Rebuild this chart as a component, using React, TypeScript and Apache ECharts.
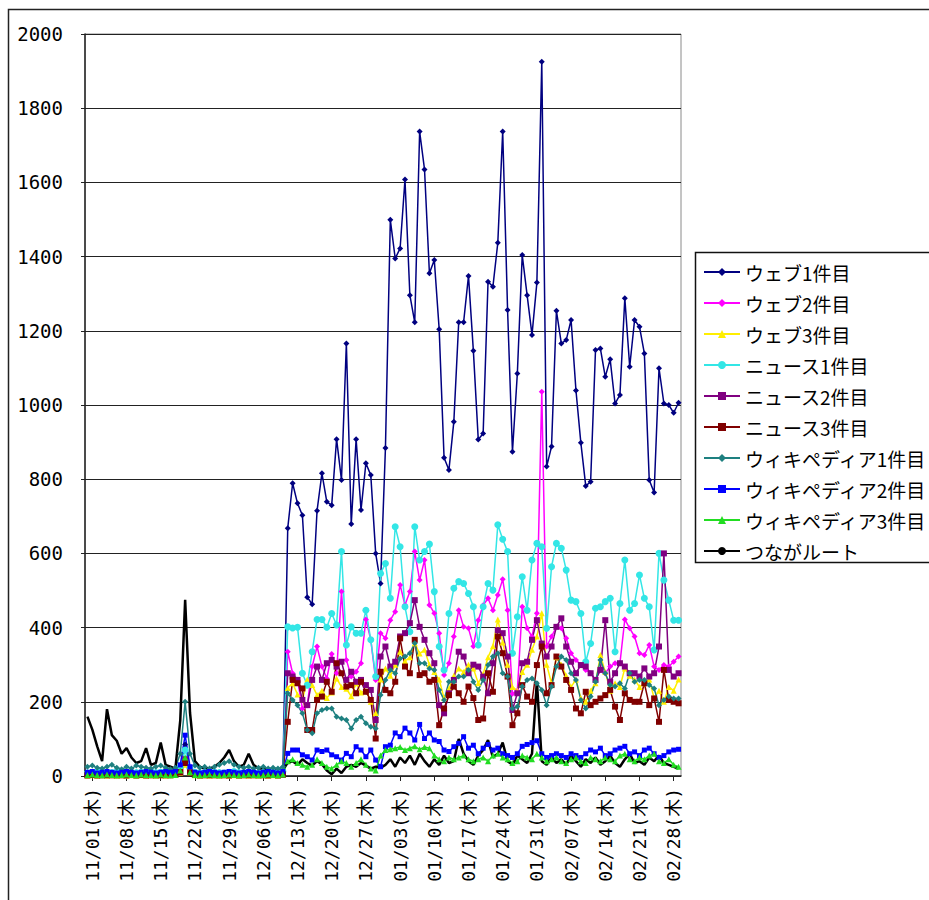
import React, { useEffect, useRef } from "react";
import * as echarts from "echarts";

const dates = [
  "10/31(水)","11/01(木)","11/02(金)","11/03(土)","11/04(日)","11/05(月)","11/06(火)",
  "11/07(水)","11/08(木)","11/09(金)","11/10(土)","11/11(日)","11/12(月)","11/13(火)",
  "11/14(水)","11/15(木)","11/16(金)","11/17(土)","11/18(日)","11/19(月)","11/20(火)",
  "11/21(水)","11/22(木)","11/23(金)","11/24(土)","11/25(日)","11/26(月)","11/27(火)",
  "11/28(水)","11/29(木)","11/30(金)","12/01(土)","12/02(日)","12/03(月)","12/04(火)",
  "12/05(水)","12/06(木)","12/07(金)","12/08(土)","12/09(日)","12/10(月)","12/11(火)",
  "12/12(水)","12/13(木)","12/14(金)","12/15(土)","12/16(日)","12/17(月)","12/18(火)",
  "12/19(水)","12/20(木)","12/21(金)","12/22(土)","12/23(日)","12/24(月)","12/25(火)",
  "12/26(水)","12/27(木)","12/28(金)","12/29(土)","12/30(日)","12/31(月)","01/01(火)",
  "01/02(水)","01/03(木)","01/04(金)","01/05(土)","01/06(日)","01/07(月)","01/08(火)",
  "01/09(水)","01/10(木)","01/11(金)","01/12(土)","01/13(日)","01/14(月)","01/15(火)",
  "01/16(水)","01/17(木)","01/18(金)","01/19(土)","01/20(日)","01/21(月)","01/22(火)",
  "01/23(水)","01/24(木)","01/25(金)","01/26(土)","01/27(日)","01/28(月)","01/29(火)",
  "01/30(水)","01/31(木)","02/01(金)","02/02(土)","02/03(日)","02/04(月)","02/05(火)",
  "02/06(水)","02/07(木)","02/08(金)","02/09(土)","02/10(日)","02/11(月)","02/12(火)",
  "02/13(水)","02/14(木)","02/15(金)","02/16(土)","02/17(日)","02/18(月)","02/19(火)",
  "02/20(水)","02/21(木)","02/22(金)","02/23(土)","02/24(日)","02/25(月)","02/26(火)",
  "02/27(水)","02/28(木)","02/29(金)"
];

const web1 = [
  3,2,3,2,3,4,2,3,2,3, 2,3,4,2,3,2,3,2,3,10, 85,12,3,2,3,2,3,2,3,4, 3,2,3,2,3,2,3,2,3,2, 5,
  668,789,735,703,482,463,715,816,739,730, 908,798,1166,679,908,717,843,811,600,519,
  884,1499,1395,1422,1608,1296,1223,1737,1635,1355, 1391,1204,858,825,955,1223,1223,1348,1146,907,
  923,1332,1319,1437,1737,1256,874,1085,1404,1296, 1189,1330,1925,834,888,1254,1166,1175,1229,1039,
  898,782,793,1148,1152,1076,1123,1004,1027,1288, 1103,1229,1211,1139,798,764,1099,1004,1000,979,1006
];
const web2 = [
  2,3,2,3,2,3,2,3,2,3, 2,3,2,3,2,3,2,3,4,12, 40,10,3,2,3,2,3,2,3,2, 3,2,3,2,3,2,3,2,3,2, 4,
  335,277,259,182,191,295,349,295,263,329, 277,497,313,268,281,304,422,367,259,385,
  371,420,443,515,461,497,605,528,582,461, 439,385,272,304,376,447,402,398,350,
  420,460,479,447,488,530,447,222,230,456, 398,376,439,1036,349,376,402,398,371,331,
  313,299,286,277,259,286,277,295,304,304, 422,398,376,331,326,353,295,286,299,295, 308,322
];
const web3 = [
  1,2,1,2,1,2,1,2,1,2, 1,2,1,2,1,2,1,2,3,8, 30,8,2,1,2,1,2,1,2,1, 2,1,2,1,2,1,2,1,2,1, 3,
  237,250,220,205,260,245,218,230,210,225, 263,240,235,215,250,225,230,200,170,260,
  290,270,300,335,310,320,358,330,340,300, 280,260,210,235,270,290,280,300,290,
  250,275,320,350,422,360,300,240,230,280, 300,340,376,439,300,250,320,300,270,240,
  260,210,200,230,250,326,280,230,250,240, 290,270,260,240,250,260,210,230,200,240, 230,260
];
const news1 = [
  8,10,12,8,10,9,12,8,10,8, 9,10,8,12,9,10,8,9,10,25, 70,20,10,8,9,8,10,9,8,10, 12,9,8,10,9,8,9,8,10,9, 12,
  402,399,401,277,245,335,422,422,401,438, 407,605,353,402,385,385,447,367,268,546,
  573,479,672,618,456,389,672,582,605,625, 497,349,286,438,506,524,519,492,456,
  353,456,519,501,677,638,605,331,429,537, 447,582,627,618,398,564,627,614,555,474,
  470,438,308,357,452,456,470,479,335,465, 582,447,465,542,479,456,340,600,528,474, 420,420
];
const news2 = [
  2,3,2,3,2,3,2,3,2,3, 2,3,2,3,2,3,2,3,4,10, 45,10,3,2,3,2,3,2,3,2, 3,2,3,2,3,2,3,2,3,2, 4,
  277,268,259,205,191,259,295,259,304,313, 295,308,259,281,254,259,245,232,151,322,
  349,295,308,376,385,412,474,402,367,331, 304,191,169,223,259,335,322,277,300,
  295,268,223,304,393,385,322,178,223,304, 308,367,420,357,322,349,402,425,349,308,
  277,299,295,277,259,286,420,254,277,304, 295,277,277,268,290,268,277,349,600,286, 268,277
];
const news3 = [
  2,3,2,2,3,2,3,2,2,3, 2,3,2,2,3,2,3,2,4,10, 35,9,3,2,2,3,2,3,2,2, 3,2,2,3,2,3,2,2,3,2, 4,
  146,259,250,236,124,124,205,214,254,227, 304,277,241,245,223,254,227,205,101,281,
  232,223,254,371,295,277,367,272,277,254, 259,137,182,218,241,223,200,241,210,
  151,155,277,227,376,331,268,137,169,245, 214,200,299,349,223,245,322,295,259,232,
  182,169,227,191,200,209,218,232,187,151, 223,205,200,200,250,191,209,146,286,205, 200,196
];
const wiki1 = [
  25,28,22,20,25,30,22,18,25,20, 28,25,22,20,25,28,22,18,22,60, 200,60,28,22,25,20,25,30,35,40, 30,25,22,25,20,22,25,20,22,20, 25,
  223,205,191,169,124,115,169,178,182,182, 160,155,151,128,151,160,142,133,128,218,
  259,286,277,317,322,331,358,304,304,290, 286,232,205,254,254,268,268,286,254,
  232,259,299,322,331,277,268,182,187,241, 259,263,250,232,191,241,295,322,313,277,
  259,205,182,214,254,313,277,245,241,250, 236,277,254,259,259,245,236,191,205,214, 209,209
];
const wiki2 = [
  10,12,8,10,12,10,8,10,12,10, 8,10,12,10,8,10,12,10,12,30, 110,25,10,8,10,12,10,8,10,12, 10,8,10,12,10,8,10,12,10,8, 12,
  61,70,70,57,52,43,70,66,70,57, 52,43,61,52,79,70,52,70,43,25,
  79,83,116,106,129,116,97,139,101,116, 97,93,70,66,79,88,106,75,83,
  60,75,85,70,75,60,55,50,60,80, 85,90,95,60,50,55,60,55,50,60,
  55,50,60,70,65,75,55,60,70,75, 80,60,65,55,70,75,60,50,55,65, 70,72
];
const wiki3 = [
  3,4,3,2,4,3,2,3,4,3, 2,4,3,3,2,4,3,2,3,15, 50,10,3,2,3,4,3,2,3,4, 3,2,3,4,3,2,3,4,3,2, 4,
  40,45,35,30,25,30,45,35,25,20, 30,40,35,25,35,45,30,20,15,55,
  70,72,75,78,70,75,80,72,78,75, 55,45,40,50,45,50,55,45,40,
  45,50,40,55,60,50,45,35,40,55, 50,45,60,50,40,45,50,40,35,45,
  50,40,35,50,45,40,50,45,40,55, 60,45,40,50,45,55,60,40,35,45, 30,25
];
const route = [
  160,125,80,40,180,110,95,60,75,50, 35,40,75,30,35,90,30,25,20,150, 475,170,40,25,20,20,25,35,50,70, 40,25,30,60,30,20,20,15,15,15, 18,
  35,40,30,45,35,28,40,32, 15,5,20,8,25, 30,25,35,28,20,25,22,
  30,45,25,50,35,55,30,60,40,25,45,30,55,35,40,
  100,60,40,30,55,70,97,50,60,90, 40,30,55,45,35,60, 255,
  40,30,50,35,45,30,55,40,25,45, 35,50,30,40,55,35,25,45,60,35, 40,30,50,40,55,35,30,25,20
];

const seriesNames = [
  "ウェブ1件目", "ウェブ2件目", "ウェブ3件目",
  "ニュース1件目", "ニュース2件目", "ニュース3件目",
  "ウィキペディア1件目", "ウィキペディア2件目", "ウィキペディア3件目",
  "つながルート"
];
const seriesData = [web1, web2, web3, news1, news2, news3, wiki1, wiki2, wiki3, route];
const seriesColors = [
  "#000080", "#FF00FF", "#FFEE00", "#33E6E6", "#800080", "#800000",
  "#1E8080", "#0000FF", "#22DD22", "#000000"
];
const seriesSymbols = ["diamond", "diamond", "triangle", "circle", "rect", "rect", "diamond", "rect", "triangle", "none"];
const symbolSizes = [6, 6, 6, 7, 6, 6, 6, 5, 6, 0];

const yTicks = { min: 0, max: 2000, interval: 200 };

export default function App() {
  const ref = useRef<HTMLDivElement>(null);
  useEffect(() => {
    const chart = echarts.init(ref.current!, null, { renderer: "svg" });
    const series = seriesNames.map((name, k) => ({
      name,
      type: "line",
      data: seriesData[k],
      symbol: seriesSymbols[k],
      symbolSize: symbolSizes[k],
      showSymbol: seriesSymbols[k] !== "none",
      showAllSymbol: true,
      lineStyle: { color: seriesColors[k], width: k === 9 ? 2.5 : 1.5 },
      itemStyle: { color: seriesColors[k] },
      emphasis: { disabled: true },
    }));
    chart.setOption({
      animation: false,
      backgroundColor: "#ffffff",
      grid: {
        left: 85, top: 34, right: 248, bottom: 124,
        show: true, borderColor: "#8a8a8a", borderWidth: 1,
        containLabel: false, outerBoundsMode: "none",
      },
      xAxis: {
        type: "category",
        data: dates,
        boundaryGap: true,
        axisLine: { show: true, lineStyle: { color: "#222", width: 1.5 } },
        axisTick: {
          show: true, alignWithLabel: true, length: 5,
          interval: (i: number) => i % 7 === 1,
          lineStyle: { color: "#222" },
        },
        axisLabel: {
          interval: (i: number) => i % 7 === 1,
          rotate: 90,
          margin: 12,
          color: "#000",
          fontSize: 18,
          fontFamily: "DejaVu Sans Mono, Noto Sans CJK JP",
        },
        splitLine: { show: false },
      },
      yAxis: {
        type: "value",
        min: yTicks.min, max: yTicks.max, interval: yTicks.interval,
        axisLine: { show: true, lineStyle: { color: "#222", width: 1.5 } },
        axisTick: { show: true, length: 4, lineStyle: { color: "#222" } },
        axisLabel: {
          margin: 22, color: "#000", fontSize: 19,
          fontFamily: "DejaVu Sans Mono, monospace",
          formatter: (v: number) => String(v),
        },
        splitLine: { show: true, lineStyle: { color: "#222", width: 1 } },
      },
      legend: {
        orient: "vertical",
        left: 698, top: 257,
        itemWidth: 36, itemHeight: 10, itemGap: 11,
        data: seriesNames,
        textStyle: { fontSize: 19, lineHeight: 20, color: "#000", fontFamily: "Noto Sans CJK JP" },
        selectedMode: false,
      },
      graphic: [
        { type: "rect", left: 6, top: 7, shape: { width: 960, height: 920 }, style: { fill: "none", stroke: "#222", lineWidth: 1.5 }, silent: true, z: -1 },
        { type: "rect", left: 693, top: 250, shape: { width: 300, height: 310 }, style: { fill: "none", stroke: "#111", lineWidth: 1.5 }, silent: true },
      ],
      series,
    });
    return () => chart.dispose();
  }, []);
  return (
    <div
      ref={ref}
      style={{ position: "absolute", left: 0, top: 0, width: 929, height: 900, background: "#fff" }}
    />
  );
}
